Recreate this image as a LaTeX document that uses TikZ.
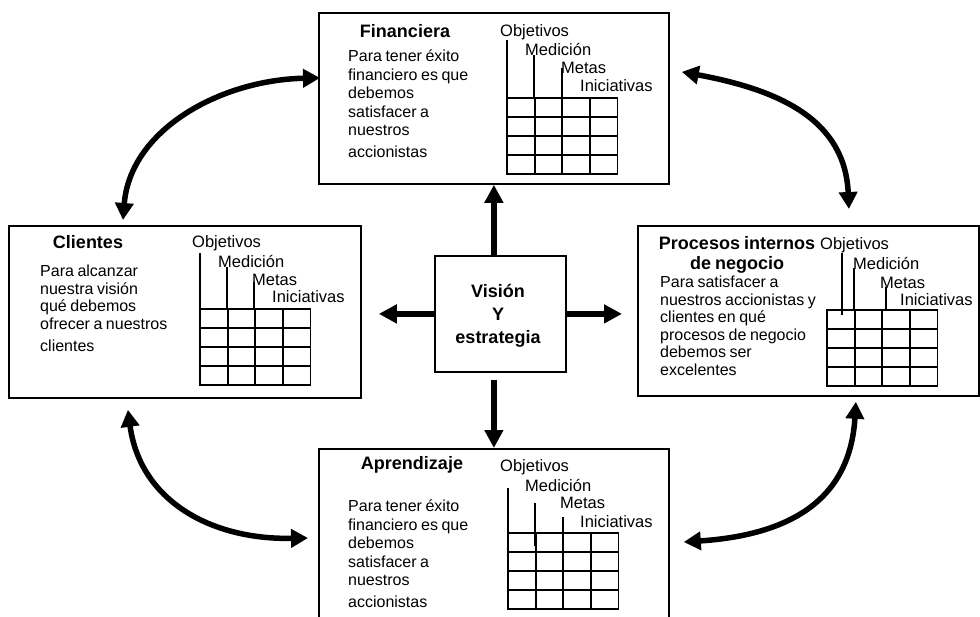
\documentclass[tikz,border=0pt]{standalone}
\usepackage{fontspec}
\setmainfont{Liberation Sans}[WordSpace=0.8]
\usetikzlibrary{arrows.meta,calc}
\begin{document}
\begin{tikzpicture}[x=1pt,y=-1pt,
  caja/.style={draw, line width=1.8pt, inner sep=0pt, anchor=north west},
  titulo/.style={inner sep=0pt, font=\fontsize{18}{20}\selectfont\bfseries, align=center},
  cuerpo/.style={inner sep=0pt, anchor=north west, align=left, font=\fontsize{16}{18.4}\selectfont},
  etiqueta/.style={inner sep=0pt, anchor=west, font=\fontsize{16.5}{18}\selectfont},
  rejilla/.style={line width=1.8pt, line cap=rect},
  guia/.style={line width=1.8pt},
  flecha/.style={line width=6pt, -{Triangle[length=18pt,width=18pt]}},
  curva/.style={line width=5.5pt, {Triangle[length=17pt,width=18pt]}-{Triangle[length=17pt,width=18pt]}},
  tabla/.pic={
    \foreach \i in {0,...,4}{
      \draw[rejilla] (\i*27.6,0) -- (\i*27.6,76);
      \draw[rejilla] (0,\i*19) -- (110.4,\i*19);
    }
  }]
\useasboundingbox (0,0) rectangle (980,616);
\clip (0,0) rectangle (980,616);
\fill[white] (0,0) rectangle (980,616);

% boxes
\node[caja, minimum width=350pt, minimum height=171pt] (fin) at (318,12) {};
\node[caja, minimum width=352pt, minimum height=172pt] (cli) at (8,225) {};
\node[caja, minimum width=341pt, minimum height=170pt] (pro) at (637,225) {};
\node[caja, minimum width=350pt, minimum height=180pt] (apr) at (318,448) {};
\node[caja, minimum width=131pt, minimum height=116pt] (vis) at (434,255) {};

% centre text
\node[titulo, font=\fontsize{18}{23}\selectfont\bfseries] (tvis) at (498,316) {Visión\\Y\\estrategia};

% Financiera
\node[titulo] (tfin) at (405,31) {Financiera};
\node[cuerpo] (bfin) at (348,50) {Para tener éxito\\ financiero es que\\debemos\\satisfacer a\\nuestros\\[3.5pt] accionistas};
\draw[guia] (507,40) -- (507,98);
\draw[guia] (534,55) -- (534,98);
\draw[guia] (562,68) -- (562,98);
\node[etiqueta] (fo) at (500,32) {Objetivos};
\node[etiqueta] (fm) at (525,50) {Medición};
\node[etiqueta] (fme) at (561,68) {Metas};
\node[etiqueta] (fi) at (580,86) {Iniciativas};
\pic at (507,98) {tabla};

% Clientes
\node[titulo] (tcli) at (88,242) {Clientes};
\node[cuerpo, font=\fontsize{16}{17.6}\selectfont] (bcli) at (40,265) {Para alcanzar\\nuestra visión\\qué debemos\\ofrecer a nuestros\\[4pt] clientes};
\draw[guia] (200,253) -- (200,309);
\draw[guia] (227,267) -- (227,309);
\draw[guia] (254,282) -- (254,309);
\node[etiqueta] (co) at (192,243) {Objetivos};
\node[etiqueta] (cm) at (218,262) {Medición};
\node[etiqueta] (cme) at (252,280) {Metas};
\node[etiqueta] (ci) at (272,297) {Iniciativas};
\pic at (200,309) {tabla};

% Procesos internos
\node[titulo] (tpro) at (737,255) {Procesos internos\\de negocio};
\node[cuerpo, font=\fontsize{16}{17.5}\selectfont] (bpro) at (660,276) {Para satisfacer a\\nuestros accionistas y\\clientes en qué\\procesos de negocio\\debemos ser\\excelentes};
\draw[guia] (842,253) -- (842,315);
\draw[guia] (854,268) -- (854,310);
\draw[guia] (886,287) -- (886,310);
\node[etiqueta] (po) at (820,245) {Objetivos};
\node[etiqueta] (pm) at (853,264) {Medición};
\node[etiqueta] (pme) at (880,283) {Metas};
\node[etiqueta] (pi) at (900,300) {Iniciativas};
\pic at (827,310) {tabla};

% Aprendizaje
\node[titulo] (tapr) at (412,465) {Aprendizaje};
\node[cuerpo] (bapr) at (348,500) {Para tener éxito\\ financiero es que\\debemos\\satisfacer a\\nuestros\\[4pt] accionistas};
\draw[guia] (508,488) -- (508,533);
\draw[guia] (535,503) -- (535,546);
\draw[guia] (563,517) -- (563,546);
\node[etiqueta] (ao) at (500,467) {Objetivos};
\node[etiqueta] (am) at (525,485) {Medición};
\node[etiqueta] (ame) at (560,503) {Metas};
\node[etiqueta] (ai) at (580,522) {Iniciativas};
\pic at (508,533) {tabla};

% straight arrows from centre
\draw[flecha] ([xshift=-6.5pt]vis.north) -- ([xshift=-6.5pt]vis.north |- fin.south);
\draw[flecha] (vis.west) -- ([xshift=17pt]cli.east |- vis.west);
\draw[flecha] (vis.east) -- ([xshift=-15pt]pro.west |- vis.east);
\draw[flecha] ([shift={(-6.5pt,-7pt)}]vis.south) -- ([xshift=-6.5pt]vis.south |- apr.north);

% curved arrows
\coordinate (c1a) at ([shift={(115pt,5pt)}]cli.north west);
\coordinate (c1b) at ([shift={(2pt,20.5pt)}]fin.west);
\coordinate (c2a) at ([shift={(12pt,26.5pt)}]fin.east);
\coordinate (c2b) at ([shift={(40.5pt,16pt)}]pro.north);
\coordinate (c3a) at ([shift={(-57pt,-11pt)}]cli.south);
\coordinate (c3b) at ([shift={(-10pt,0pt)}]apr.west |- 0,538);
\coordinate (c4a) at ([shift={(14pt,0pt)}]apr.east |- 0,542);
\coordinate (c4b) at ([shift={(47.5pt,-5pt)}]pro.south);
\draw[curva] (c1a) .. controls (130,130) and (220,80) .. (c1b);
\draw[curva] (c2a) .. controls (780,90) and (845,120) .. (c2b);
\draw[curva] (c3a) .. controls (140,500) and (210,540) .. (c3b);
\draw[curva] (c4a) .. controls (790,535) and (850,500) .. (c4b);
\end{tikzpicture}
\end{document}
